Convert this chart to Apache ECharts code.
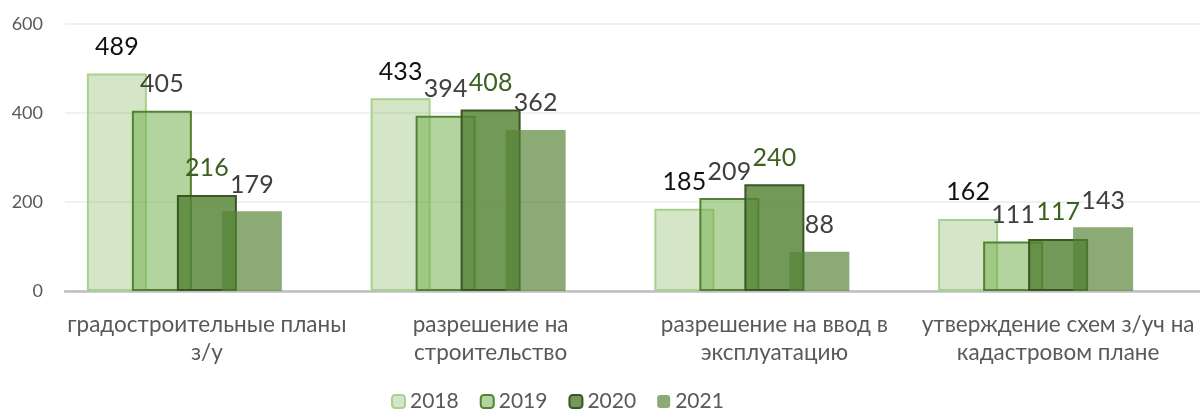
<!DOCTYPE html>
<html>
<head>
<meta charset="utf-8">
<script src="https://cdn.jsdelivr.net/npm/echarts@6/dist/echarts.min.js"></script>
<style>
  html, body { margin: 0; padding: 0; background: #ffffff; }
  #chart { width: 1200px; height: 409px; }
</style>
</head>
<body>
<div id="chart"></div>
<script>
// категории и значения по годам
const categories = [
    'градостроительные планы\nз/у',
    'разрешение на\nстроительство',
    'разрешение на ввод в\nэксплуатацию',
    'утверждение схем з/уч на\nкадастровом плане'
];
const years = ['2018', '2019', '2020', '2021'];
const values2018 = [489, 433, 185, 162];
const values2019 = [405, 394, 209, 111];
const values2020 = [216, 408, 240, 117];
const values2021 = [179, 362, 88, 143];
const yTicks = [0, 200, 400, 600];

const chart = echarts.init(document.getElementById('chart'));

// стиль каждого года: заливка, рамка, цвет подписи
const styles = [
    { fill: 'rgba(112,173,71,0.3)', border: '#a9d18e', borderWidth: 2, label: '#111111' },
    { fill: 'rgba(112,173,71,0.53)', border: '#548235', borderWidth: 2, label: '#404040' },
    { fill: 'rgba(84,130,53,0.82)', border: '#385723', borderWidth: 2, label: '#3b6122' },
    { fill: 'rgba(84,130,53,0.68)', border: 'rgba(0,0,0,0)', borderWidth: 0, label: '#404040' }
];
const allValues = [values2018, values2019, values2020, values2021];

const series = years.map(function(year, i) {
    return {
        name: year,
        type: 'bar',
        barWidth: 60,
        barGap: '-25%',
        data: allValues[i],
        itemStyle: {
            color: styles[i].fill,
            borderColor: styles[i].border,
            borderWidth: styles[i].borderWidth
        },
        label: {
            show: true,
            position: 'top',
            distance: 14,
            color: styles[i].label,
            fontFamily: 'Lato',
            fontSize: 25
        }
    };
});
// пустой ряд: в исходнике группа столбцов смещена влево на один шаг
series.push({
    name: 'hidden',
    type: 'bar',
    barWidth: 60,
    barGap: '-25%',
    data: [],
    silent: true
});

const option = {
    backgroundColor: '#ffffff',
    animation: false,
    grid: {
        left: 65,
        top: 24,
        width: 1140,
        height: 267
    },
    legend: {
        data: years,
        left: 386,
        top: 386,
        itemWidth: 13,
        itemHeight: 13,
        itemGap: 21,
        textStyle: {
            color: '#595959',
            fontFamily: 'Lato',
            fontSize: 21,
            padding: [0, 0, 0, 0]
        }
    },
    xAxis: {
        type: 'category',
        data: categories,
        axisTick: { show: false },
        axisLine: {
            lineStyle: { color: '#bfbfbf', width: 2.5 }
        },
        axisLabel: {
            interval: 0,
            margin: 20,
            color: '#595959',
            fontFamily: 'Lato',
            fontSize: 22.5,
            lineHeight: 28
        }
    },
    yAxis: {
        type: 'value',
        min: yTicks[0],
        max: yTicks[yTicks.length - 1],
        interval: yTicks[1] - yTicks[0],
        axisLine: { show: false },
        axisTick: { show: false },
        axisLabel: {
            margin: 22,
            color: '#595959',
            fontFamily: 'Lato',
            fontSize: 18
        },
        splitLine: {
            lineStyle: { color: '#ededed', width: 1.5 }
        }
    },
    series: series
};

chart.setOption(option);
</script>
</body>
</html>
